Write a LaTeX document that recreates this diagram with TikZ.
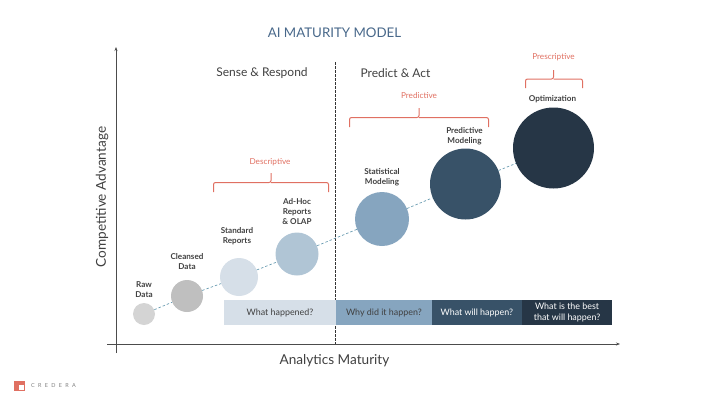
\documentclass[tikz,border=0pt]{standalone}
\usepackage{fontspec}
\setmainfont{Lato}
\usepackage{xcolor}
\usetikzlibrary{arrows.meta, positioning}
\definecolor{crederared}{RGB}{224, 112, 98}
\definecolor{titleblue}{RGB}{72, 104, 138}
\definecolor{textgray}{RGB}{64, 64, 64}
\definecolor{barpale}{RGB}{214, 223, 232}
\definecolor{barmid}{RGB}{134, 165, 191}
\definecolor{bardark}{RGB}{56, 82, 104}
\definecolor{barnavy}{RGB}{38, 54, 70}

\begin{document}
\begin{tikzpicture}[
    x=1pt, y=-1pt,
    stage/.style={
        circle, 
        inner sep=0pt, 
        draw=none
    },
    stagelabel/.style={
        font=\fontsize{8.1}{10}\selectfont\bfseries, 
        text=textgray, 
        align=center, 
        inner sep=0pt
    },
    question/.style={
        rectangle, 
        inner sep=0pt, 
        minimum height=25pt, 
        font=\fontsize{8.9}{11}\selectfont, 
        align=center
    },
    heading/.style={font=\fontsize{12}{15}\selectfont, text=textgray, inner sep=0pt},
    axislabel/.style={font=\fontsize{13.6}{17}\selectfont, text=textgray, inner sep=0pt},
    bracelabel/.style={font=\fontsize{8.2}{10}\selectfont, text=crederared, inner sep=0pt},
    bracket/.style={draw=crederared, line width=1pt, rounded corners=2pt},
    axis/.style={-{Stealth[length=4pt, width=3pt]}, line width=0.9pt, draw=black!70},
    trend/.style={dashed, dash pattern=on 2.5pt off 2pt, line width=0.7pt, draw=barmid!80!teal}
]
    \useasboundingbox (0,0) rectangle (720,405);

    % axes
    \coordinate (xstart) at (107,344);
    \coordinate (xend) at (620,344);
    \coordinate (ystart) at (116,353);
    \coordinate (yend) at (116,47);
    \coordinate (divtop) at (335.5,62);
    \coordinate (divbot) at (335.5,344);
    \draw[axis] (xstart) -- (xend);
    \draw[axis] (ystart) -- (yend);
    \draw[dashed, dash pattern=on 2.5pt off 1.5pt, line width=0.7pt, draw=black!80] (divtop) -- (divbot);

    % stages
    \node[stage, fill=black!17, minimum size=22pt] (raw) at (144,314) {};
    \node[stage, fill=black!25, minimum size=32pt] (cle) at (187,296) {};
    \node[stage, fill=barpale, minimum size=38pt] (sta) at (239,277) {};
    \node[stage, fill=barmid!65, minimum size=43pt] (adh) at (297,254) {};
    \node[stage, fill=barmid, minimum size=54pt] (stm) at (382,219) {};
    \node[stage, fill=bardark, minimum size=71pt] (prm) at (465.5,184) {};
    \node[stage, fill=barnavy, minimum size=81pt] (opt) at (553.5,148) {};

    \draw[trend] (raw) -- (cle);
    \draw[trend] (cle) -- (sta);
    \draw[trend] (sta) -- (adh);
    \draw[trend] (adh) -- (stm);
    \draw[trend] (stm) -- (prm);
    \draw[trend] (prm) -- (opt);

    \node[stagelabel, above=5pt of raw] {Raw\\Data};
    \node[stagelabel, above=10pt of cle] {Cleansed\\Data};
    \node[stagelabel, above=13pt of sta, xshift=-2pt] {Standard\\Reports};
    \node[stagelabel, above=8pt of adh] {Ad-Hoc\\Reports\\\& OLAP};
    \node[stagelabel, above=6pt of stm] {Statistical\\Modeling};
    \node[stagelabel, above=3pt of prm, xshift=-1pt] {Predictive\\Modeling};
    \node[stagelabel, above=4pt of opt, xshift=-1pt] {Optimization};

    % questions
    \node[question, fill=barpale, text=textgray, minimum width=112.2pt] (hap) at (280,312.5) {What happened?};
    \node[question, fill=barmid, text=textgray, minimum width=95.2pt, right=-0.2pt of hap] (why) {Why did it happen?};
    \node[question, fill=bardark, text=white, minimum width=90.2pt, right=-0.2pt of why] (wil) {What will happen?};
    \node[question, fill=barnavy, text=white, minimum width=90pt, right=-0.2pt of wil] (bes) {What is the best\\that will happen?};

    % braces
    \draw[bracket] (213.5,192) -- (213.5,182.5) -- (271,182.5) -- (271,173);
    \draw[bracket] (271,182.5) -- (328.5,182.5) -- (328.5,192);
    \draw[bracket] (349.5,127) -- (349.5,117.5) -- (419,117.5) -- (419,108);
    \draw[bracket] (419,117.5) -- (488.5,117.5) -- (488.5,127);
    \draw[bracket] (525.5,88) -- (525.5,79) -- (553.5,79) -- (553.5,70);
    \draw[bracket] (553.5,79) -- (582.5,79) -- (582.5,88);
    \node[bracelabel] (des) at (270,162) {Descriptive};
    \node[bracelabel] (pre) at (419,96) {Predictive};
    \node[bracelabel] (pcr) at (553.5,57) {Prescriptive};

    % titles
    \node[font=\fontsize{13.3}{17}\selectfont, text=titleblue, inner sep=0pt] (title) at (334.5,33) {AI MATURITY MODEL};
    \node[heading] (sense) at (262,73) {Sense \& Respond};
    \node[heading] (pred) at (395.5,73) {Predict \& Act};
    \node[axislabel] (xlab) at (334.5,361) {Analytics Maturity};
    \node[axislabel, rotate=90] (ylab) at (102,197) {Competitive Advantage};

    % logo
    \fill[crederared] (14,381) rectangle (25,391);
    \fill[white] (19,385) rectangle (24,390);
    \node[font=\fontsize{5.5}{7}\selectfont\addfontfeature{LetterSpace=60}, text=black!50, inner sep=0pt, anchor=west] (logo) at (31,385.5) {CREDERA};
\end{tikzpicture}
\end{document}
